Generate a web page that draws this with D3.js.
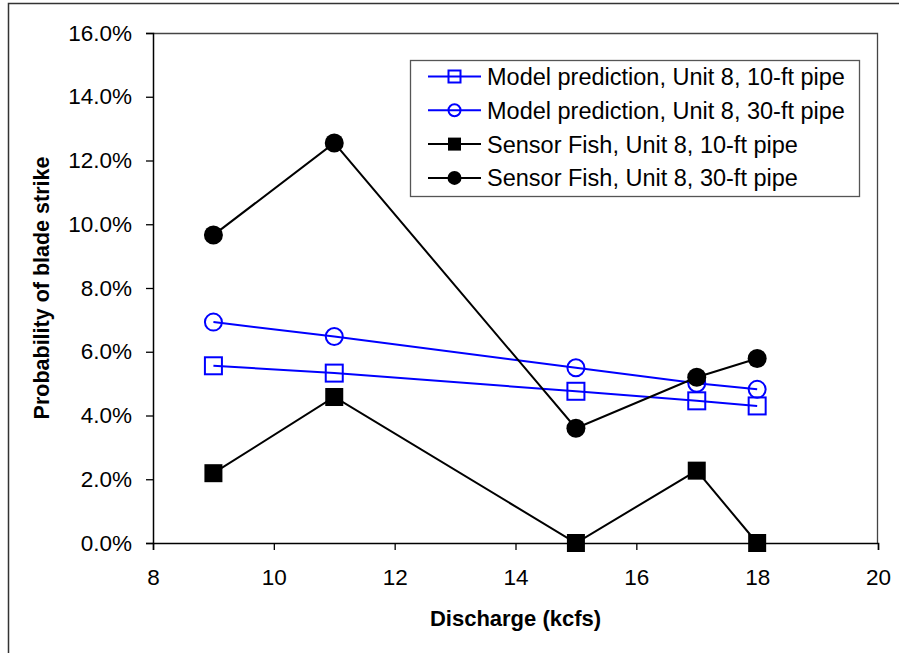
<!DOCTYPE html>
<html><head><meta charset="utf-8">
<script src="https://cdn.jsdelivr.net/npm/d3@7"></script>
<style>body{margin:0;background:#fff}svg{display:block}text{font-family:Arial,"Liberation Sans",sans-serif}</style>
</head><body><svg id="c" width="899" height="653"></svg>
<script>
const discharge = [9, 11, 15, 17, 18];
const model10 = [5.56, 5.33, 4.76, 4.46, 4.30];
const model30 = [6.93, 6.48, 5.50, 5.01, 4.82];
const sensor10 = [2.19, 4.58, 0.0, 2.27, 0.0];
const sensor30 = [9.66, 12.55, 3.60, 5.20, 5.79];
const xTicks = [8, 10, 12, 14, 16, 18, 20];
const yTicks = [0, 2, 4, 6, 8, 10, 12, 14, 16];
const seriesNames = ["Model prediction, Unit 8, 10-ft pipe","Model prediction, Unit 8, 30-ft pipe","Sensor Fish, Unit 8, 10-ft pipe","Sensor Fish, Unit 8, 30-ft pipe"];

const series = [
  {name: seriesNames[0], vals: model10, color: "#0000ff", shape: "square", fill: false},
  {name: seriesNames[1], vals: model30, color: "#0000ff", shape: "circle", fill: false},
  {name: seriesNames[2], vals: sensor10, color: "#000", shape: "square", fill: true},
  {name: seriesNames[3], vals: sensor30, color: "#000", shape: "circle", fill: true}
];

const svg = d3.select("#c");
const L = 153, R = 878, T = 33, B = 543;
const x = d3.scaleLinear().domain([8, 20]).range([L, R]);
const y = d3.scaleLinear().domain([0, 16]).range([B, T]);

// outer chart border
svg.append("rect").attr("x", 8.5).attr("y", 3.5).attr("width", 1000).attr("height", 1000)
  .attr("fill", "none").attr("stroke", "#333").attr("stroke-width", 1.5);

// plot border top/right
svg.append("path").attr("d", `M${L},${T+0.5}H${R-0.5}V${B}`).attr("fill","none").attr("stroke","#444").attr("stroke-width",1.3);

const yAxis = svg.append("g").attr("transform", `translate(${L},0)`)
  .call(d3.axisLeft(y).tickValues(yTicks).tickSize(7).tickPadding(14).tickFormat(d => d.toFixed(1) + "%"));
const xAxis = svg.append("g").attr("transform", `translate(0,${B})`)
  .call(d3.axisBottom(x).tickValues(xTicks).tickSize(7).tickPadding(19).tickFormat(d3.format("d")));
[yAxis, xAxis].forEach(g => {
  g.select(".domain").attr("stroke", "#000").attr("stroke-width", 1.5);
  g.selectAll(".tick line").attr("stroke", "#000").attr("stroke-width", 1.3);
  g.selectAll("text").attr("font-size", 22.5).attr("fill", "#000").attr("font-family", "Arial, 'Liberation Sans', sans-serif");
});

svg.append("text").attr("x", (L + R) / 2).attr("y", 626).attr("text-anchor", "middle")
  .attr("font-size", 22).attr("font-weight", "bold").text("Discharge (kcfs)");
svg.append("text").attr("transform", `translate(49,${(T + B) / 2}) rotate(-90)`).attr("text-anchor", "middle")
  .attr("font-size", 21.5).attr("font-weight", "bold").text("Probability of blade strike");

function marker(g, s, cx, cy) {
  if (s.shape === "square") {
    const h = s.fill ? 9 : 8.5;
    g.append("rect").attr("x", cx - h).attr("y", cy - h).attr("width", 2 * h).attr("height", 2 * h)
      .attr("fill", s.fill ? s.color : "none").attr("stroke", s.color).attr("stroke-width", s.fill ? 0 : 2);
  } else {
    g.append("circle").attr("cx", cx).attr("cy", cy).attr("r", s.fill ? 9.5 : 8.5)
      .attr("fill", s.fill ? s.color : "none").attr("stroke", s.color).attr("stroke-width", s.fill ? 0 : 2);
  }
}

const line = d3.line().x(d => x(d[0])).y(d => y(d[1]));
series.forEach(s => {
  const pts = discharge.map((d, i) => [d, s.vals[i]]);
  const g = svg.append("g");
  g.append("path").attr("d", line(pts)).attr("fill", "none").attr("stroke", s.color).attr("stroke-width", 2);
  pts.forEach(p => marker(g, s, x(p[0]), y(p[1])));
});

// legend
const lg = svg.append("g");
lg.append("rect").attr("x", 410.5).attr("y", 60.5).attr("width", 449).attr("height", 136)
  .attr("fill", "#fff").attr("stroke", "#555").attr("stroke-width", 1.3);
series.forEach((s, i) => {
  const cy = 76.5 + i * 33.8;
  lg.append("line").attr("x1", 428).attr("x2", 481).attr("y1", cy).attr("y2", cy).attr("stroke", s.color).attr("stroke-width", 2);
  if (s.shape === "square") {
    const h = s.fill ? 6.5 : 6;
    lg.append("rect").attr("x", 454.5 - h).attr("y", cy - h).attr("width", 2 * h).attr("height", 2 * h)
      .attr("fill", s.fill ? s.color : "none").attr("stroke", s.color).attr("stroke-width", s.fill ? 0 : 2);
  } else {
    lg.append("circle").attr("cx", 454.5).attr("cy", cy).attr("r", s.fill ? 7 : 6)
      .attr("fill", s.fill ? s.color : "none").attr("stroke", s.color).attr("stroke-width", s.fill ? 0 : 2);
  }
  lg.append("text").attr("x", 487).attr("y", cy).attr("dy", "0.36em").attr("font-size", 23.5).text(s.name);
});
</script></body></html>
